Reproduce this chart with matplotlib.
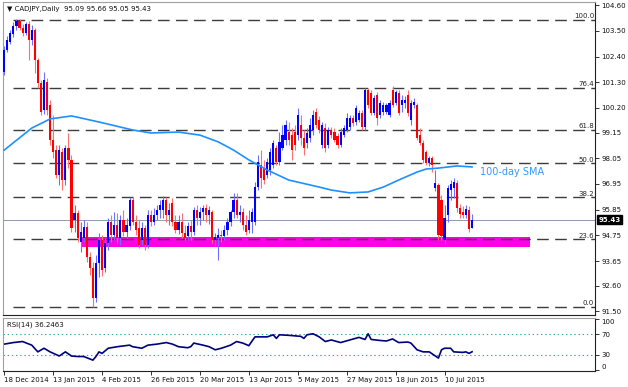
import matplotlib
matplotlib.use('Agg')
import matplotlib.pyplot as plt
from matplotlib.transforms import blended_transform_factory
import numpy as np

plt.rcParams['font.family'] = ['DejaVu Sans']
plt.rcParams['lines.scale_dashes'] = False

# ---------------- data ----------------
opens = [101.74, 102.68, 103.02, 103.36, 103.70, 103.92, 103.62, 103.40, 103.79, 103.11,
         103.53, 102.25, 101.27, 100.11, 101.31, 100.33, 98.83, 98.40, 97.34, 98.32,
         97.12, 98.49, 97.98, 95.41, 95.71, 94.47, 94.64, 95.11, 93.83, 93.36,
         92.08, 93.57, 94.56, 93.36, 94.43, 95.33, 94.77, 95.20, 94.64, 95.41,
         94.90, 95.16, 96.27, 95.33, 95.07, 94.56, 95.07, 94.34, 95.63, 95.33,
         95.63, 95.84, 95.84, 96.27, 95.63, 96.14, 95.33, 94.99, 95.33, 94.86,
         94.73, 95.16, 94.90, 95.84, 95.50, 95.75, 95.93, 95.63, 95.75, 94.56,
         94.64, 94.77, 94.73, 94.99, 95.33, 95.75, 96.27, 95.63, 95.75, 95.20,
         94.99, 95.33, 95.33, 96.82, 97.76, 97.63, 97.34, 97.55, 97.76, 98.49,
         97.89, 98.49, 98.83, 99.17, 99.04, 99.17, 99.04, 99.47, 98.92, 98.70,
         98.92, 99.26, 100.03, 99.69, 98.62, 99.34, 98.62, 99.26, 99.17, 99.00,
         98.62, 99.04, 99.26, 99.39, 99.77, 99.60, 99.69, 99.99, 99.39, 100.97,
         100.84, 99.99, 100.76, 99.90, 100.03, 100.03, 99.90, 100.97, 100.41, 100.84,
         100.33, 100.41, 100.76, 99.69, 100.33, 100.33, 99.04, 98.70, 98.32, 97.85,
         98.06, 96.78, 96.91, 96.27, 94.56, 95.63, 96.69, 96.78, 96.99, 95.93,
         95.75, 95.63, 95.84, 95.09]
highs = [102.85, 103.28, 103.53, 103.87, 104.00, 104.00, 103.79, 103.87, 103.92, 103.75,
         103.62, 102.34, 101.40, 101.74, 101.48, 100.54, 99.90, 98.62, 98.62, 98.49,
         98.62, 99.13, 98.19, 96.05, 95.84, 95.33, 95.41, 95.33, 94.04, 93.62,
         93.92, 94.86, 94.77, 94.64, 95.50, 95.63, 95.75, 95.71, 95.63, 95.84,
         95.50, 96.40, 96.40, 95.63, 95.41, 95.33, 95.20, 95.84, 95.84, 95.93,
         96.05, 96.27, 96.44, 96.40, 96.14, 96.35, 95.63, 95.63, 95.71, 95.20,
         95.33, 95.41, 95.97, 96.05, 95.97, 96.05, 96.10, 96.01, 95.84, 94.86,
         95.07, 94.99, 95.20, 95.50, 95.84, 96.57, 96.57, 96.05, 95.93, 95.63,
         95.84, 95.93, 97.04, 98.19, 98.40, 97.98, 98.06, 98.49, 98.83, 98.62,
         99.17, 99.47, 99.69, 99.60, 99.34, 99.47, 100.20, 99.90, 99.26, 99.34,
         99.77, 100.11, 100.20, 99.86, 99.60, 99.56, 99.39, 99.39, 99.34, 99.13,
         99.34, 99.47, 99.99, 99.90, 99.90, 100.33, 100.11, 100.11, 101.05, 101.05,
         100.97, 100.76, 100.88, 100.54, 100.46, 100.41, 100.54, 101.14, 100.97, 100.97,
         100.76, 100.71, 100.97, 100.54, 100.63, 100.41, 99.34, 98.83, 98.40, 98.15,
         98.15, 97.55, 97.00, 96.48, 96.05, 96.91, 97.12, 97.21, 97.12, 96.10,
         96.01, 96.05, 96.01, 95.66]
lows = [101.61, 102.59, 102.93, 103.23, 103.53, 103.53, 103.28, 103.32, 102.25, 102.89,
        101.69, 101.05, 99.90, 99.94, 99.90, 98.62, 98.06, 97.21, 96.91, 96.69,
        96.91, 97.63, 94.90, 94.90, 94.47, 94.04, 94.47, 93.62, 93.06, 91.69,
        91.91, 92.98, 93.02, 93.19, 94.13, 94.47, 94.56, 94.43, 94.34, 94.73,
        94.64, 94.99, 95.20, 94.77, 94.21, 94.34, 94.13, 94.21, 95.16, 95.20,
        95.41, 95.50, 95.50, 95.33, 95.20, 95.16, 94.86, 94.81, 94.64, 94.56,
        94.56, 94.56, 94.77, 95.20, 95.20, 95.41, 95.33, 95.24, 94.43, 94.30,
        93.70, 94.47, 94.56, 94.77, 95.16, 95.50, 95.50, 95.33, 94.99, 94.77,
        94.86, 94.86, 95.20, 96.69, 96.78, 96.95, 97.21, 97.34, 97.63, 97.76,
        97.76, 98.40, 98.62, 98.62, 97.98, 98.40, 98.83, 98.62, 98.19, 98.49,
        98.75, 99.04, 99.34, 99.13, 98.49, 98.32, 98.49, 98.92, 98.75, 98.49,
        98.53, 98.96, 99.17, 99.26, 99.43, 99.47, 99.60, 99.26, 99.26, 100.20,
        99.90, 99.90, 99.47, 99.77, 99.90, 99.94, 99.81, 100.24, 100.33, 99.90,
        100.03, 100.20, 99.86, 99.47, 100.20, 98.83, 98.62, 97.85, 97.76, 97.72,
        97.46, 96.65, 94.56, 94.56, 94.39, 95.33, 96.27, 96.35, 95.75, 95.50,
        95.50, 95.50, 94.90, 95.05]
closes = [102.68, 103.11, 103.40, 103.70, 103.92, 103.62, 103.40, 103.79, 103.11, 103.53,
          102.25, 101.27, 100.03, 101.40, 100.11, 98.83, 98.32, 97.34, 98.40, 97.12,
          98.49, 97.98, 95.07, 95.71, 94.64, 94.90, 95.11, 93.83, 93.36, 92.08,
          93.57, 94.56, 93.28, 94.43, 95.33, 94.77, 95.20, 94.64, 95.41, 94.90,
          95.20, 96.27, 95.33, 94.99, 94.34, 95.07, 94.34, 95.63, 95.33, 95.63,
          95.84, 96.05, 96.27, 95.63, 95.84, 95.33, 94.99, 95.33, 94.86, 94.64,
          95.16, 94.90, 95.84, 95.50, 95.75, 95.93, 95.63, 95.84, 94.56, 94.69,
          94.77, 94.73, 94.99, 95.33, 95.75, 96.27, 95.63, 95.75, 95.20, 94.90,
          95.41, 95.75, 96.82, 97.89, 97.21, 97.12, 97.89, 98.32, 98.70, 97.89,
          98.75, 99.04, 99.47, 98.83, 98.40, 98.62, 99.90, 98.92, 98.49, 99.13,
          99.47, 99.90, 99.47, 99.26, 99.47, 98.49, 99.26, 99.04, 98.83, 98.62,
          99.17, 99.34, 99.77, 99.77, 99.56, 100.20, 99.99, 99.39, 100.97, 100.33,
          99.99, 100.63, 99.77, 100.41, 100.33, 100.33, 100.41, 100.33, 100.88, 99.99,
          100.54, 100.54, 99.99, 100.41, 100.46, 98.92, 98.70, 97.98, 97.85, 98.06,
          97.76, 97.00, 94.77, 94.73, 95.50, 96.78, 96.95, 97.04, 95.93, 95.67,
          95.63, 95.88, 95.03, 95.43]

sma_idx = [0, 9, 15, 22, 31, 42, 48, 57, 64, 70, 75, 80, 86, 93, 103, 107, 113, 119,
           124, 129, 135, 138, 142, 148, 153]
sma_val = [98.40, 99.34, 99.73, 99.86, 99.60, 99.26, 99.13, 99.17, 99.04, 98.75, 98.40,
           97.98, 97.55, 97.12, 96.82, 96.69, 96.57, 96.61, 96.82, 97.12, 97.46, 97.59,
           97.63, 97.72, 97.68]

rsi_idx = [0, 3, 6, 9, 11, 13, 15, 18, 20, 22, 24, 26, 29, 30, 31, 32, 34, 37, 41, 42,
           45, 47, 50, 53, 55, 57, 60, 61, 62, 65, 67, 69, 71, 74, 76, 78, 80, 82, 84, 86,
           88, 89, 90, 93, 97, 98, 99, 101, 103, 105, 107, 110, 113, 116, 118, 119, 120,
           123, 125, 127, 129, 132, 133, 135, 137, 139, 140, 142, 143, 144, 146, 147, 150,
           151, 152, 153]
rsi_val = [51, 54, 56, 49, 36, 43, 36, 28, 36, 28, 27, 27, 20, 27, 36, 33, 43, 46, 49, 46,
           43, 49, 51, 54, 51, 46, 44, 46, 53, 49, 46, 40, 43, 49, 56, 53, 48, 65, 65, 65,
           69, 62, 69, 68, 66, 62, 69, 71, 65, 56, 59, 54, 59, 64, 60, 71, 60,
           58, 57, 61, 54, 55, 53, 40, 36, 36, 32, 24, 40, 43, 43, 36, 35,
           36, 33, 36.25]

fib_levels = [91.69, 94.59, 96.38, 97.83, 99.27, 101.06, 103.96]
fib_labels = ['0.0', '23.6', '38.2', '50.0', '61.8', '76.4', '100.0']
fib_start = 3

zone_low, zone_high = 94.26, 94.69
zone_from, zone_to = 25, 172

last_price = 95.43
price_ticks = [104.60, 103.50, 102.40, 101.30, 100.20, 99.15, 98.05, 96.95, 95.85,
               94.75, 93.65, 92.60, 91.50]
price_tick_labels = ['104.60', '103.50', '102.40', '101.30', '100.20', '99.15', '98.05',
                     '96.95', '95.85', '94.75', '93.65', '92.60', '91.50']
date_idx = [0, 16, 32, 48, 64, 80, 96, 112, 128, 144]
date_labels = ['18 Dec 2014', '13 Jan 2015', '4 Feb 2015', '26 Feb 2015', '20 Mar 2015',
               '13 Apr 2015', '5 May 2015', '27 May 2015', '18 Jun 2015', '10 Jul 2015']
rsi_ticks = [100, 70, 30, 0]

# ---------------- figure ----------------
W, H = 628, 387
fig = plt.figure(figsize=(W / 100, H / 100), dpi=100)
fig.patch.set_facecolor('white')


def rect(x0, y0, x1, y1):
    return [x0 / W, 1 - y1 / H, (x1 - x0) / W, (y1 - y0) / H]


ax = fig.add_axes(rect(3, 2, 595, 315))
axr = fig.add_axes(rect(3, 318, 595, 371))

o = np.array(opens); h = np.array(highs); l = np.array(lows); c = np.array(closes)
idx = np.arange(len(c))
up = c >= o
cols = np.where(up, '#0000ff', '#ff0000')
wick_cols = np.where(up, '#6f6fff', '#ff7070')

XMAX = 193.2
ax.set_xlim(-0.4, XMAX)
ax.set_ylim(91.35, 104.73)

# magenta zone
ax.fill_between([zone_from, zone_to], zone_low, zone_high, color='#ff00e6', lw=0, zorder=1)

# last price line
ax.axhline(last_price, color='#8c9bb0', lw=0.7, zorder=1.5)

# fib dashed lines
trans = blended_transform_factory(ax.transAxes, ax.transData)
for lvl, lab in zip(fib_levels, fib_labels):
    ax.plot([fib_start, XMAX], [lvl, lvl], color='#3c3c3c', lw=1.0,
            linestyle=(0, (8.4, 4.6)), zorder=2)
    ax.text(0.9985, lvl + 0.03, lab, transform=trans, ha='right', va='bottom',
            fontsize=5, color='#222222', zorder=6)

# candles
ax.vlines(idx, l, h, colors=wick_cols, lw=0.8, zorder=3)
body = np.maximum(np.abs(c - o), 0.02)
ax.bar(idx, body, bottom=np.minimum(o, c), width=0.7, color=cols, lw=0, zorder=4)

# SMA
ax.plot(sma_idx, sma_val, color='#1e90ff', lw=1.2, zorder=5)

# axes styling main
ax.set_xticks([])
ax.yaxis.tick_right()
ax.set_yticks(price_ticks)
ax.set_yticklabels(price_tick_labels)
ax.tick_params(axis='y', right=True, left=False, labelright=True, labelleft=False,
               length=3, width=0.6, labelsize=5, pad=1.5, colors='#111111')
for s in ['left', 'top']:
    ax.spines[s].set_color('#a0a0a0')
    ax.spines[s].set_linewidth(0.8)
for s in ['right', 'bottom']:
    ax.spines[s].set_color('#222222')
    ax.spines[s].set_linewidth(0.8)

# price box
ax.text(1.006, last_price, f'{last_price:.2f}', transform=trans, ha='left', va='center',
        fontsize=5, color='white', fontweight='bold',
        bbox=dict(boxstyle='square,pad=0.2', fc='black', ec='black'), clip_on=False, zorder=10)

# RSI panel
axr.set_xlim(-0.4, XMAX)
axr.set_ylim(-1.0, 101.5)
axr.axhline(70, color='#3aa59c', lw=0.8, linestyle=(0, (1, 2)))
axr.axhline(30, color='#3aa59c', lw=0.8, linestyle=(0, (1, 2)))
axr.plot(rsi_idx, rsi_val, color='#00007f', lw=1.2)
axr.yaxis.tick_right()
axr.set_yticks(rsi_ticks)
axr.set_yticklabels([str(t) for t in rsi_ticks])
axr.tick_params(axis='y', right=True, left=False, labelright=True, labelleft=False,
                length=3, width=0.6, labelsize=5, pad=1.5, colors='#111111')
ylabels = axr.get_yticklabels()
ylabels[0].set_va('top')
ylabels[-1].set_va('bottom')
axr.set_xticks(date_idx)
axr.set_xticklabels(date_labels, ha='left')
axr.tick_params(axis='x', length=3, width=0.6, labelsize=5, pad=1.5, colors='#111111')
for s in ['left', 'top']:
    axr.spines[s].set_color('#a0a0a0')
    axr.spines[s].set_linewidth(0.8)
for s in ['right', 'bottom']:
    axr.spines[s].set_color('#222222')
    axr.spines[s].set_linewidth(0.8)

# texts
fig.text(7 / W, 1 - 9 / H, '\u25bc CADJPY,Daily  95.09 95.66 95.05 95.43', fontsize=5,
         va='center', ha='left', color='#111111')
fig.text(7 / W, 1 - 325 / H, 'RSI(14) 36.2463', fontsize=5, va='center', ha='left',
         color='#111111')
fig.text(480 / W, 1 - 172 / H, '100-day SMA', fontsize=7, va='center', ha='left',
         color='#3399ff')

fig.savefig('out.png', dpi=100)
